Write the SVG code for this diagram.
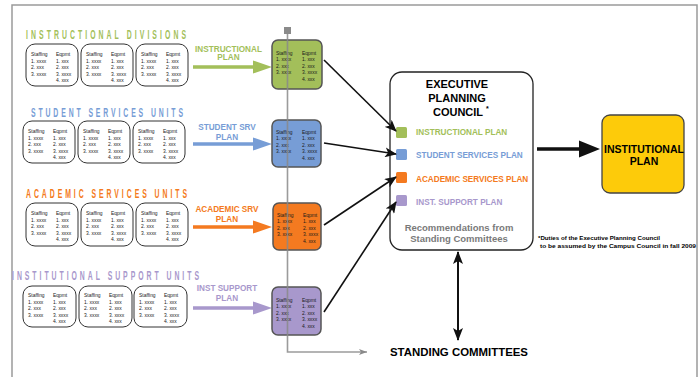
<svg xmlns="http://www.w3.org/2000/svg" width="699" height="377" viewBox="0 0 699 377">
<style>
.frame{fill:none;stroke:#9a9a9a;stroke-width:1.5}
.card{fill:#fff;stroke:#333;stroke-width:1}
.ct{font-family:"Liberation Sans",Arial,sans-serif;font-size:5.6px;fill:#1a1a1a}
.node{stroke:#555;stroke-width:1.5}
.head{font-family:"Liberation Sans",Arial,sans-serif;font-size:12.5px;font-weight:bold}
.lab{font-family:"Liberation Sans",Arial,sans-serif;font-size:8.2px;font-weight:bold;text-anchor:middle}
.b{font-family:"Liberation Sans",Arial,sans-serif;font-weight:bold}
.conn{stroke:#111;stroke-width:1.6;fill:none}
.gray{stroke:#8a8a8a;stroke-width:1.6;fill:none}
.g{fill:#a3bf5a}.bl{fill:#779dd6}.o{fill:#f47a20}.p{fill:#a898cc}
</style>
<defs>
<marker id="ah" viewBox="0 0 12 10" refX="11" refY="5" markerWidth="12" markerHeight="10" markerUnits="userSpaceOnUse" orient="auto"><path d="M0,0 L12,5 L0,10 L3,5 Z" fill="#111"/></marker>
<marker id="ah2" viewBox="0 0 13 10" refX="12" refY="5" markerWidth="13" markerHeight="10" markerUnits="userSpaceOnUse" orient="auto-start-reverse"><path d="M0,0 L13,5 L0,10 L3,5 Z" fill="#111"/></marker>
<marker id="gh" viewBox="0 0 8 6" refX="8" refY="3" markerWidth="8" markerHeight="6" markerUnits="userSpaceOnUse" orient="auto"><path d="M0,0 L8,3 L0,6 L2,3 Z" fill="#8a8a8a"/></marker>
<path id="plarrow" d="M0,-1.8 H60 V-6.5 L79,0 L60,6.5 V1.8 H0 Z"/>
</defs>

<rect class="frame" x="12" y="5" width="685" height="390"/>

<!-- Headings -->
<text class="head g" transform="translate(26 39) scale(0.55 1)" textLength="290.9" lengthAdjust="spacing">INSTRUCTIONAL DIVISIONS</text>
<text class="head bl" transform="translate(31 117) scale(0.55 1)" textLength="276.4" lengthAdjust="spacing">STUDENT SERVICES UNITS</text>
<text class="head o" transform="translate(26 198) scale(0.55 1)" textLength="292.7" lengthAdjust="spacing">ACADEMIC SERVICES UNITS</text>
<text class="head p" transform="translate(12 280) scale(0.55 1)" textLength="340" lengthAdjust="spacing">INSTITUTIONAL SUPPORT UNITS</text>

<!-- Row 1 cards -->
<g id="instr-unit-1"><rect class="card" x="26" y="44" width="52" height="42" rx="9"/>
<g class="ct" transform="translate(26 44) scale(0.88 1)"><text x="5.7" y="12">Staffing</text><text x="5.7" y="19">1. xxxx</text><text x="5.7" y="25.5">2. xxx</text><text x="5.7" y="32">3. xxxx</text><text x="34" y="12">Eqpmt</text><text x="34" y="19">1. xxx</text><text x="34" y="25.5">2. xxx</text><text x="34" y="32">3. xxxx</text><text x="34" y="38.5">4. xxx</text></g></g>
<g id="instr-unit-2"><rect class="card" x="81" y="44" width="52" height="42" rx="9"/>
<g class="ct" transform="translate(81 44) scale(0.88 1)"><text x="5.7" y="12">Staffing</text><text x="5.7" y="19">1. xxxx</text><text x="5.7" y="25.5">2. xxx</text><text x="5.7" y="32">3. xxxx</text><text x="34" y="12">Eqpmt</text><text x="34" y="19">1. xxx</text><text x="34" y="25.5">2. xxx</text><text x="34" y="32">3. xxxx</text><text x="34" y="38.5">4. xxx</text></g></g>
<g id="instr-unit-3"><rect class="card" x="136" y="44" width="52" height="42" rx="9"/>
<g class="ct" transform="translate(136 44) scale(0.88 1)"><text x="5.7" y="12">Staffing</text><text x="5.7" y="19">1. xxxx</text><text x="5.7" y="25.5">2. xxx</text><text x="5.7" y="32">3. xxxx</text><text x="34" y="12">Eqpmt</text><text x="34" y="19">1. xxx</text><text x="34" y="25.5">2. xxx</text><text x="34" y="32">3. xxxx</text><text x="34" y="38.5">4. xxx</text></g></g>

<!-- Row 2 cards -->
<g id="student-unit-1"><rect class="card" x="23" y="121" width="52" height="42" rx="9"/>
<g class="ct" transform="translate(23 121) scale(0.88 1)"><text x="5.7" y="12">Staffing</text><text x="5.7" y="19">1. xxxx</text><text x="5.7" y="25.5">2. xxx</text><text x="5.7" y="32">3. xxxx</text><text x="34" y="12">Eqpmt</text><text x="34" y="19">1. xxx</text><text x="34" y="25.5">2. xxx</text><text x="34" y="32">3. xxxx</text><text x="34" y="38.5">4. xxx</text></g></g>
<g id="student-unit-2"><rect class="card" x="78" y="121" width="52" height="42" rx="9"/>
<g class="ct" transform="translate(78 121) scale(0.88 1)"><text x="5.7" y="12">Staffing</text><text x="5.7" y="19">1. xxxx</text><text x="5.7" y="25.5">2. xxx</text><text x="5.7" y="32">3. xxxx</text><text x="34" y="12">Eqpmt</text><text x="34" y="19">1. xxx</text><text x="34" y="25.5">2. xxx</text><text x="34" y="32">3. xxxx</text><text x="34" y="38.5">4. xxx</text></g></g>
<g id="student-unit-3"><rect class="card" x="133" y="121" width="52" height="42" rx="9"/>
<g class="ct" transform="translate(133 121) scale(0.88 1)"><text x="5.7" y="12">Staffing</text><text x="5.7" y="19">1. xxxx</text><text x="5.7" y="25.5">2. xxx</text><text x="5.7" y="32">3. xxxx</text><text x="34" y="12">Eqpmt</text><text x="34" y="19">1. xxx</text><text x="34" y="25.5">2. xxx</text><text x="34" y="32">3. xxxx</text><text x="34" y="38.5">4. xxx</text></g></g>

<!-- Row 3 cards -->
<g id="academic-unit-1"><rect class="card" x="26" y="203" width="52" height="43" rx="9"/>
<g class="ct" transform="translate(26 203) scale(0.88 1)"><text x="5.7" y="12">Staffing</text><text x="5.7" y="19">1. xxxx</text><text x="5.7" y="25.5">2. xxx</text><text x="5.7" y="32">3. xxxx</text><text x="34" y="12">Eqpmt</text><text x="34" y="19">1. xxx</text><text x="34" y="25.5">2. xxx</text><text x="34" y="32">3. xxxx</text><text x="34" y="38.5">4. xxx</text></g></g>
<g id="academic-unit-2"><rect class="card" x="81" y="203" width="52" height="43" rx="9"/>
<g class="ct" transform="translate(81 203) scale(0.88 1)"><text x="5.7" y="12">Staffing</text><text x="5.7" y="19">1. xxxx</text><text x="5.7" y="25.5">2. xxx</text><text x="5.7" y="32">3. xxxx</text><text x="34" y="12">Eqpmt</text><text x="34" y="19">1. xxx</text><text x="34" y="25.5">2. xxx</text><text x="34" y="32">3. xxxx</text><text x="34" y="38.5">4. xxx</text></g></g>
<g id="academic-unit-3"><rect class="card" x="136" y="203" width="52" height="43" rx="9"/>
<g class="ct" transform="translate(136 203) scale(0.88 1)"><text x="5.7" y="12">Staffing</text><text x="5.7" y="19">1. xxxx</text><text x="5.7" y="25.5">2. xxx</text><text x="5.7" y="32">3. xxxx</text><text x="34" y="12">Eqpmt</text><text x="34" y="19">1. xxx</text><text x="34" y="25.5">2. xxx</text><text x="34" y="32">3. xxxx</text><text x="34" y="38.5">4. xxx</text></g></g>

<!-- Row 4 cards -->
<g id="support-unit-1"><rect class="card" x="23" y="286" width="53" height="41" rx="9"/>
<g class="ct" transform="translate(23 285) scale(0.88 1)"><text x="5.7" y="12">Staffing</text><text x="5.7" y="19">1. xxxx</text><text x="5.7" y="25.5">2. xxx</text><text x="5.7" y="32">3. xxxx</text><text x="34" y="12">Eqpmt</text><text x="34" y="19">1. xxx</text><text x="34" y="25.5">2. xxx</text><text x="34" y="32">3. xxxx</text><text x="34" y="38.5">4. xxx</text></g></g>
<g id="support-unit-2"><rect class="card" x="79" y="286" width="53" height="41" rx="9"/>
<g class="ct" transform="translate(79 285) scale(0.88 1)"><text x="5.7" y="12">Staffing</text><text x="5.7" y="19">1. xxxx</text><text x="5.7" y="25.5">2. xxx</text><text x="5.7" y="32">3. xxxx</text><text x="34" y="12">Eqpmt</text><text x="34" y="19">1. xxx</text><text x="34" y="25.5">2. xxx</text><text x="34" y="32">3. xxxx</text><text x="34" y="38.5">4. xxx</text></g></g>
<g id="support-unit-3"><rect class="card" x="134" y="286" width="53" height="41" rx="9"/>
<g class="ct" transform="translate(134 285) scale(0.88 1)"><text x="5.7" y="12">Staffing</text><text x="5.7" y="19">1. xxxx</text><text x="5.7" y="25.5">2. xxx</text><text x="5.7" y="32">3. xxxx</text><text x="34" y="12">Eqpmt</text><text x="34" y="19">1. xxx</text><text x="34" y="25.5">2. xxx</text><text x="34" y="32">3. xxxx</text><text x="34" y="38.5">4. xxx</text></g></g>

<!-- Plan arrows with labels -->
<g id="instructional-plan-arrow">
<text class="lab g" x="228.5" y="51.5">INSTRUCTIONAL</text><text class="lab g" x="228.5" y="60">PLAN</text>
<use href="#plarrow" class="g" transform="translate(193 67)"/></g>
<g id="student-plan-arrow">
<text class="lab bl" x="227" y="130">STUDENT SRV</text><text class="lab bl" x="227" y="140">PLAN</text>
<use href="#plarrow" class="bl" transform="translate(193 144)"/></g>
<g id="academic-plan-arrow">
<text class="lab o" x="227" y="211.5">ACADEMIC SRV</text><text class="lab o" x="227" y="221.5">PLAN</text>
<use href="#plarrow" class="o" transform="translate(193 227)"/></g>
<g id="support-plan-arrow">
<text class="lab p" x="227" y="290.5">INST SUPPORT</text><text class="lab p" x="227" y="300.5">PLAN</text>
<use href="#plarrow" class="p" transform="translate(193 308)"/></g>

<!-- Colored plan nodes -->
<g id="node-instructional"><rect class="node g" x="272" y="40" width="50" height="49" rx="6"/>
<g class="ct" transform="translate(272 40) scale(0.88 1)"><text x="4.5" y="15">Staffing</text><text x="4.5" y="21.5">1. xxxx</text><text x="4.5" y="28">2. xxx</text><text x="4.5" y="34.5">3. xxxx</text><text x="34" y="15">Eqpmt</text><text x="34" y="21.5">1. xxx</text><text x="34" y="28">2. xxx</text><text x="34" y="34.5">3. xxxx</text><text x="34" y="41">4. xxx</text></g></g>
<g id="node-student"><rect class="node bl" x="272" y="120" width="49" height="47" rx="6"/>
<g class="ct" transform="translate(272 119) scale(0.88 1)"><text x="4.5" y="15">Staffing</text><text x="4.5" y="21.5">1. xxxx</text><text x="4.5" y="28">2. xxx</text><text x="4.5" y="34.5">3. xxxx</text><text x="34" y="15">Eqpmt</text><text x="34" y="21.5">1. xxx</text><text x="34" y="28">2. xxx</text><text x="34" y="34.5">3. xxxx</text><text x="34" y="41">4. xxx</text></g></g>
<g id="node-academic"><rect class="node o" x="273" y="203" width="48" height="47" rx="6"/>
<g class="ct" transform="translate(273 202) scale(0.88 1)"><text x="4.5" y="15">Staffing</text><text x="4.5" y="21.5">1. xxxx</text><text x="4.5" y="28">2. xxx</text><text x="4.5" y="34.5">3. xxxx</text><text x="34" y="15">Eqpmt</text><text x="34" y="21.5">1. xxx</text><text x="34" y="28">2. xxx</text><text x="34" y="34.5">3. xxxx</text><text x="34" y="41">4. xxx</text></g></g>
<g id="node-support"><rect class="node p" x="272" y="287" width="49" height="48" rx="6"/>
<g class="ct" transform="translate(272 287) scale(0.88 1)"><text x="4.5" y="15">Staffing</text><text x="4.5" y="21.5">1. xxxx</text><text x="4.5" y="28">2. xxx</text><text x="4.5" y="34.5">3. xxxx</text><text x="34" y="15">Eqpmt</text><text x="34" y="21.5">1. xxx</text><text x="34" y="28">2. xxx</text><text x="34" y="34.5">3. xxxx</text><text x="34" y="41">4. xxx</text></g></g>

<!-- Executive Planning Council -->
<g id="node-epc">
<rect x="390" y="72" width="143" height="178" rx="12" fill="#fff" stroke="#222" stroke-width="1.3"/>
<text class="b" x="457" y="88" font-size="11" text-anchor="middle">EXECUTIVE</text>
<text class="b" x="457" y="102" font-size="11" text-anchor="middle">PLANNING</text>
<text class="b" x="458" y="116" font-size="11" text-anchor="middle">COUNCIL</text>
<text class="b" x="486" y="111" font-size="7">*</text>
<rect class="g" x="396" y="127" width="11" height="11" rx="1.5"/>
<text class="b g" x="416" y="135" font-size="8.2">INSTRUCTIONAL PLAN</text>
<rect class="bl" x="396" y="149" width="11" height="11" rx="1.5"/>
<text class="b bl" x="416" y="158" font-size="8.2">STUDENT SERVICES PLAN</text>
<rect class="o" x="396" y="172" width="11" height="11" rx="1.5"/>
<text class="b o" x="416" y="182" font-size="8.2">ACADEMIC SERVICES PLAN</text>
<rect class="p" x="396" y="195" width="11" height="11" rx="1.5"/>
<text class="b p" x="416" y="205" font-size="8.2">INST. SUPPORT PLAN</text>
<text class="b" x="459" y="231" font-size="9.5" fill="#7a7a7a" text-anchor="middle">Recommendations from</text>
<text class="b" x="459" y="241.5" font-size="9.5" fill="#7a7a7a" text-anchor="middle">Standing Committees</text>
</g>

<!-- Institutional plan -->
<g id="node-institutional-plan">
<rect x="602" y="115" width="82" height="78" rx="8" fill="#fdcb0a" stroke="#444" stroke-width="1.3"/>
<text class="b" x="644" y="152.5" font-size="10.5" text-anchor="middle">INSTITUTIONAL</text>
<text class="b" x="644" y="164.5" font-size="10.5" text-anchor="middle">PLAN</text>
</g>

<!-- Standing committees -->
<g id="node-standing-committees">
<text class="b" x="390" y="356" font-size="10.5" textLength="138" lengthAdjust="spacingAndGlyphs">STANDING COMMITTEES</text>
</g>

<!-- Footnote -->
<g id="footnote">
<text class="b" x="538" y="240" font-size="5.5" textLength="122" lengthAdjust="spacingAndGlyphs">*Duties of the Executive Planning Council</text>
<text class="b" x="540" y="248" font-size="5.5" textLength="156" lengthAdjust="spacingAndGlyphs">to be assumed by the Campus Council in fall 2009</text>
</g>

<!-- Connectors -->
<g id="connectors">
<rect x="284" y="27" width="7" height="7" fill="#8a8a8a"/>
<path class="gray" d="M287.5,34 V352 H367" marker-end="url(#gh)" stroke-opacity="0.85"/>
<line class="conn" x1="324" y1="60" x2="396" y2="131" marker-end="url(#ah)"/>
<line class="conn" x1="324" y1="143" x2="396" y2="154" marker-end="url(#ah)"/>
<line class="conn" x1="324" y1="225" x2="396" y2="177" marker-end="url(#ah)"/>
<line class="conn" x1="324" y1="312" x2="396" y2="202" marker-end="url(#ah)"/>
<path d="M537,147.3 H579 V140.5 L600,149 L579,157.5 V150.7 H537 Z" fill="#111"/>
<line x1="458" y1="252" x2="458" y2="340" stroke="#111" stroke-width="2" marker-start="url(#ah2)" marker-end="url(#ah2)"/>
</g>
</svg>
